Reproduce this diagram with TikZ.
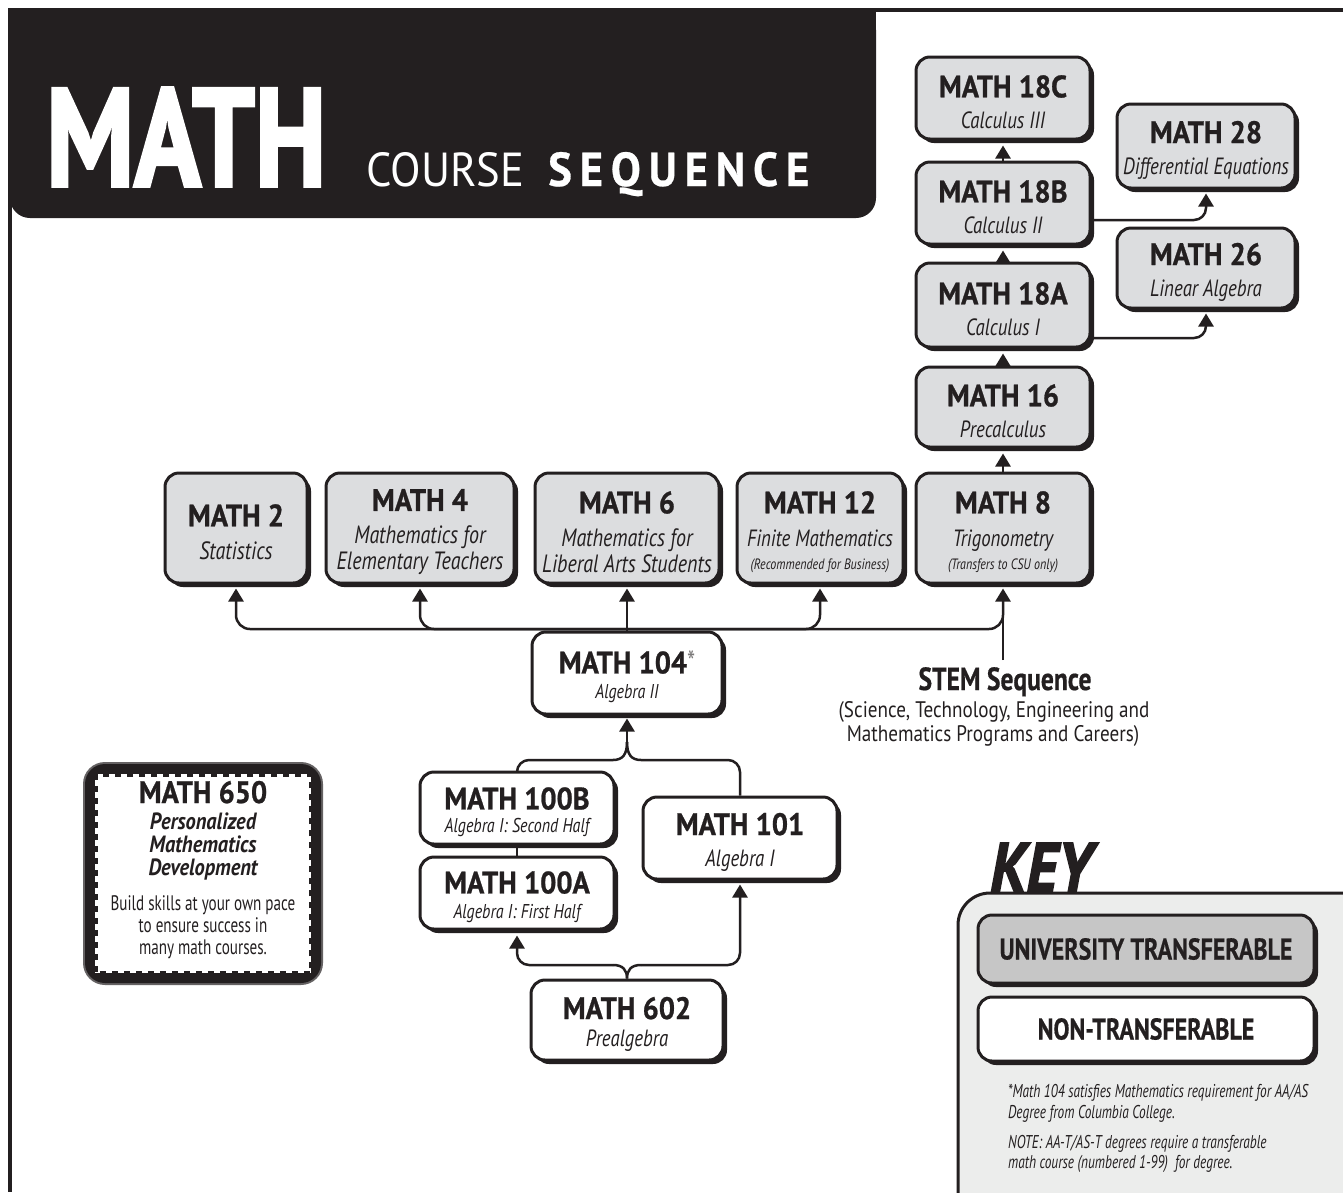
\documentclass[tikz,border=0pt]{standalone}
\usepackage{fontspec}
\usepackage{graphicx}
\setmainfont{PT Sans}[FakeStretch=0.72]
\newfontfamily\hdfam{PT Sans}[FakeStretch=0.92, FakeBold=0.8]
\newfontfamily\bffam{PT Sans}[FakeStretch=0.8, FakeBold=0.5]
\newfontfamily\bifam{PT Sans}[FakeStretch=0.87]
\newfontfamily\itfam{PT Sans}[FakeStretch=0.8]
\newfontfamily\rgwide{PT Sans}[FakeStretch=0.85]
\newfontfamily\heavyfam{PT Sans}[FakeBold=2.5]
\usetikzlibrary{shadows,arrows.meta,calc}
\definecolor{ink}{HTML}{231F20}
\definecolor{boxgray}{HTML}{DCDDDF}
\definecolor{keygray}{HTML}{ECEDEC}
\definecolor{unigray}{HTML}{C6C6C6}
\newcommand\myhdp{\hdfam\fontsize{31}{31}\bfseries}
\newcommand\myhd{\myhdp\rule{0pt}{30pt}}
\newcommand\myit{\itfam\fontsize{23.5}{31}\selectfont\itshape}
\newcommand\myitb{\itfam\fontsize{25}{31}\selectfont\itshape}
\newcommand\myits{\itfam\fontsize{20}{31}\selectfont\itshape}
\newcommand\mysm{\itfam\fontsize{15}{31}\selectfont\itshape}
\newcommand\mynote{\normalfont\fontsize{18.5}{18.5}\selectfont\itshape}
\newcommand\mykey{\bffam\fontsize{30}{30}\bfseries}
\begin{document}
\begin{tikzpicture}[x=1pt, y=-1pt,
  course/.style={draw=ink, line width=3pt, rounded corners=14pt, fill=boxgray, align=center,
    inner sep=0pt, text=ink, font=\itfam\fontsize{23.5}{31}\selectfont,
    general shadow={fill=ink, shadow xshift=4pt, shadow yshift=-4pt}},
  plainbox/.style={course, fill=white},
  conn/.style={draw=ink, line width=2.5pt},
  arr/.style={conn, -{Triangle[width=15pt,length=13pt]}},
  lbl/.style={inner sep=0pt, text=ink},
]
\useasboundingbox (0,0) rectangle (1343,1192);
\fill[white] (0,0) rectangle (1343,1192);

% title band and frame
\fill[ink, rounded corners=20pt] (10,10) rectangle (876,218);
\fill[ink] (10,10) rectangle (876,60);
\draw[ink, line width=3.5pt] (1343,10) -- (10,10) -- (10,1192);
\node[lbl, anchor=base west, text=white] (tmath) at (46,186) {\resizebox{280pt}{98pt}{\heavyfam\bfseries MATH}};
\node[lbl, anchor=base west, text=white] (tcourse) at (366,186) {\resizebox{158pt}{34pt}{COURSE}};
\node[lbl, anchor=base west, text=white] (tseq) at (548,186) {\resizebox{261pt}{34pt}{\bffam\bfseries\addfontfeatures{LetterSpace=14}SEQUENCE}};

% calculus column
\node[course, minimum width=174pt, minimum height=82pt] (m18c) at (1003,98) {\myhd MATH 18C\\\myit Calculus III};
\node[course, minimum width=174pt, minimum height=82pt] (m18b) at (1003,203) {\myhd MATH 18B\\\myit Calculus II};
\node[course, minimum width=174pt, minimum height=84pt] (m18a) at (1003,305) {\myhd MATH 18A\\\myit Calculus I};
\node[course, minimum width=174pt, minimum height=80pt] (m16) at (1003,407) {\myhd MATH 16\\\myit Precalculus};
\node[course, minimum width=178pt, minimum height=84pt] (m28) at (1206,146) {\myhd MATH 28\\\myit Differential Equations};
\node[course, minimum width=178pt, minimum height=80pt] (m26) at (1206,268) {\myhd MATH 26\\\myit Linear Algebra};

% transferable row
\node[course, minimum width=174pt, minimum height=110pt] (m8) at (1003,528) {\myhd MATH 8\\[2pt]\myit Trigonometry\\[-8pt]\mysm (Transfers to CSU only)};
\node[course, minimum width=166pt, minimum height=110pt] (m12) at (820,528) {\myhd MATH 12\\[2pt]\myit Finite Mathematics\\[-8pt]\mysm (Recommended for Business)};
\node[course, minimum width=184pt, minimum height=110pt] (m6) at (627,528) {\myhd MATH 6\\[2pt]\myitb Mathematics for\\[-5pt]\myitb Liberal Arts Students};
\node[course, minimum width=188pt, minimum height=110pt] (m4) at (420,528) {\myhd MATH 4\\[2pt]\myitb Mathematics for\\[-5pt]\myitb Elementary Teachers};
\node[course, minimum width=142pt, minimum height=110pt] (m2) at (236,528) {\myhd MATH 2\\[2pt]\myitb Statistics};

% non-transferable
\node[plainbox, minimum width=190pt, minimum height=82pt] (m104) at (627,673) {\myhd MATH 104{\normalfont\fontsize{32}{31}\selectfont\color{ink!60}*}\\[-6pt]\myits Algebra II};
\node[plainbox, minimum width=194pt, minimum height=72pt] (m100b) at (517,808) {\myhd MATH 100B\\[-8pt]\myits Algebra I: Second Half};
\node[plainbox, minimum width=194pt, minimum height=72pt] (m100a) at (517,893) {\myhd MATH 100A\\[-6pt]\myits Algebra I: First Half};
\node[plainbox, minimum width=194pt, minimum height=82pt] (m101) at (740,838) {\myhd MATH 101\\\myit Algebra I};
\node[plainbox, minimum width=192pt, minimum height=80pt] (m602) at (627,1020) {\myhd MATH 602\\[-4pt]\myit Prealgebra};

% connectors upper
\draw[arr, shorten >=5pt] (m8.north) -- (m16.south);
\draw[arr, shorten >=5pt] (m16.north) -- (m18a.south);
\draw[arr, shorten >=5pt] (m18a.north) -- (m18b.south);
\draw[arr, shorten >=5pt] (m18b.north) -- (m18c.south);
\draw[arr, shorten >=4pt, rounded corners=12pt] ($(m18b.east)+(0,17)$) -| (m28.south);
\draw[arr, shorten >=4pt, rounded corners=12pt] ($(m18a.east)+(0,33)$) -| (m26.south);

% row connectors
\coordinate (j) at (627,629);
\coordinate (stem) at (1003,660);
\draw[arr, shorten >=4pt, rounded corners=14pt] (j) -| (m2.south);
\draw[arr, shorten >=4pt, rounded corners=14pt] (j) -| (m4.south);
\draw[arr, shorten >=4pt, rounded corners=14pt] (j) -| (m12.south);
\draw[conn, shorten >=10pt, rounded corners=14pt] (j) -| (m8.south);
\draw[arr, shorten >=4pt] (stem) -- (m8.south);
\draw[arr, shorten >=4pt] (m104.north) -- (m6.south);

% lower connectors
\coordinate (bl) at (613,760);
\coordinate (br) at (641,760);
\coordinate (bj) at (627,742);
\draw[conn, rounded corners=12pt] (m100b.north) |- (bl);
\draw[conn] (bl) .. controls (623,760) and (627,754) .. (bj);
\draw[conn, rounded corners=12pt] (m101.north) |- (br);
\draw[conn] (br) .. controls (631,760) and (627,754) .. (bj);
\draw[arr, shorten >=3pt] (bj) -- (m104.south);
\draw[conn] (m100b.south) -- (m100a.north);
\coordinate (fl) at (613,965);
\coordinate (fr) at (641,965);
\draw[conn] (m602.north) .. controls (627,970) and (623,965) .. (fl);
\draw[conn] (m602.north) .. controls (627,970) and (631,965) .. (fr);
\draw[arr, shorten >=5pt, rounded corners=12pt] (fl) -| (m100a.south);
\draw[arr, shorten >=4pt, rounded corners=12pt] (fr) -| (m101.south);

% STEM label
\node[lbl, anchor=base] (stemt) at (1005,690) {\bffam\fontsize{32}{32}\bfseries STEM Sequence};
\node[lbl, anchor=base] (stems1) at (994,717) {\rgwide\fontsize{22.5}{22.5}\selectfont (Science, Technology, Engineering and};
\node[lbl, anchor=base] (stems2) at (993,741) {\rgwide\fontsize{22.5}{22.5}\selectfont Mathematics Programs and Careers)};

% MATH 650 box
\fill[ink!70, rounded corners=22pt] (83,762) rectangle (323,985);
\fill[ink, rounded corners=20pt] (85,764) rectangle (321,983);
\fill[white] (95,774) rectangle (311,973);
\draw[ink, line width=5pt, dash pattern=on 6pt off 6pt] (95,774) rectangle (311,973);
\node[lbl, anchor=base] (t650) at (203,803) {\myhdp MATH 650};
\node[lbl, anchor=base] (t650a) at (203,829) {\bifam\fontsize{23.5}{24}\bfseries\itshape Personalized};
\node[lbl, anchor=base] (t650b) at (203,852) {\bifam\fontsize{23.5}{24}\bfseries\itshape Mathematics};
\node[lbl, anchor=base] (t650c) at (203,875) {\bifam\fontsize{23.5}{24}\bfseries\itshape Development};
\node[lbl, anchor=base] (t650d) at (203,910) {\fontsize{21}{21}\selectfont Build skills at your own pace};
\node[lbl, anchor=base] (t650e) at (203,932) {\fontsize{21}{21}\selectfont to ensure success in};
\node[lbl, anchor=base] (t650f) at (203,954) {\fontsize{21}{21}\selectfont many math courses.};

% key
\draw[ink, line width=3pt, fill=keygray, rounded corners=32pt] (958,1300) -- (958,893) -- (1450,893) -- (1450,1300) -- cycle;
\node[lbl, anchor=base west] (key) at (990,892) {\resizebox{102pt}{49pt}{\heavyfam\bfseries\itshape KEY}};
\node[course, fill=unigray, minimum width=336pt, minimum height=68pt] (uni) at (1146,949) {\mykey UNIVERSITY TRANSFERABLE};
\node[plainbox, minimum width=336pt, minimum height=64pt] (non) at (1146,1029) {\mykey NON-TRANSFERABLE};
\node[lbl, anchor=base west] (n1) at (1008,1097) {\mynote *Math 104 satisfies Mathematics requirement for AA/AS};
\node[lbl, anchor=base west] (n2) at (1008,1118) {\mynote Degree from Columbia College.};
\node[lbl, anchor=base west] (n3) at (1008,1148) {\mynote NOTE: AA-T/AS-T degrees require a transferable};
\node[lbl, anchor=base west] (n4) at (1008,1168) {\mynote math course (numbered 1-99)\ \ for degree.};
\end{tikzpicture}
\end{document}
